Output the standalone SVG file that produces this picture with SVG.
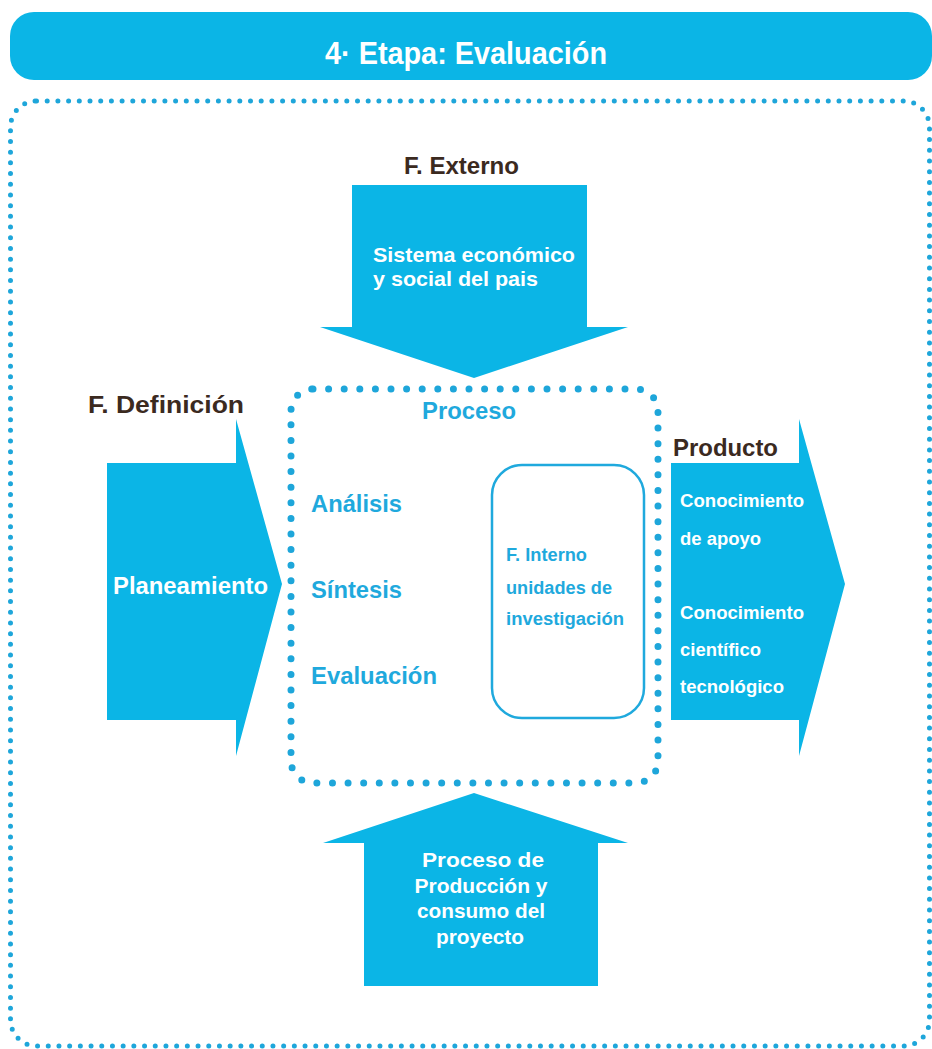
<svg xmlns="http://www.w3.org/2000/svg" width="932" height="1049" viewBox="0 0 932 1049">
<style>
text{font-family:"Liberation Sans",Arial,sans-serif;font-weight:bold}
.w{fill:#ffffff}
.b{fill:#3b2a1f;font-size:23px}
.c{fill:#1fa9dd}
.fill{fill:#0bb5e6}
</style>
<rect width="932" height="1049" fill="#ffffff"/>
<g id="title">
<rect x="10" y="12" width="922" height="68" rx="24" class="fill"/>
<text x="466" y="64" class="w" font-size="31" text-anchor="middle" textLength="282" lengthAdjust="spacingAndGlyphs">4· Etapa: Evaluación</text>
</g>
<g id="frame">
<rect x="10.5" y="101" width="919" height="945" rx="26" fill="none" stroke="#1ea6da" stroke-width="5" stroke-linecap="round" stroke-dasharray="0 10.7"/>
</g>
<g id="connectors">
<g id="externo">
<polygon class="fill" points="352,185 587,185 587,327 628,327 474,378 320,327 352,327"/>
<text x="404" y="174" class="b" textLength="115" lengthAdjust="spacingAndGlyphs">F. Externo</text>
<text x="373" y="262" class="w" font-size="21" textLength="202" lengthAdjust="spacingAndGlyphs">Sistema económico</text>
<text x="373" y="286" class="w" font-size="21" textLength="165" lengthAdjust="spacingAndGlyphs">y social del pais</text>
</g>
<g id="definicion">
<polygon class="fill" points="107,463 236,463 236,419 282,584 236,756 236,720 107,720"/>
<text x="88" y="413" class="b" textLength="156" lengthAdjust="spacingAndGlyphs">F. Definición</text>
<text x="113" y="594" class="w" font-size="24" textLength="155" lengthAdjust="spacingAndGlyphs">Planeamiento</text>
</g>
<g id="producto">
<polygon class="fill" points="671,463 799,463 799,419 845,584 799,756 799,720 671,720"/>
<text x="673" y="456" class="b" textLength="105" lengthAdjust="spacingAndGlyphs">Producto</text>
<text x="680" y="507" class="w" font-size="18" textLength="124" lengthAdjust="spacingAndGlyphs">Conocimiento</text>
<text x="680" y="545" class="w" font-size="18" textLength="81" lengthAdjust="spacingAndGlyphs">de apoyo</text>
<text x="680" y="619" class="w" font-size="18" textLength="124" lengthAdjust="spacingAndGlyphs">Conocimiento</text>
<text x="680" y="656" class="w" font-size="18" textLength="81" lengthAdjust="spacingAndGlyphs">científico</text>
<text x="680" y="693" class="w" font-size="18" textLength="104" lengthAdjust="spacingAndGlyphs">tecnológico</text>
</g>
<g id="produccion">
<polygon class="fill" points="474,793 628,843 598,843 598,986 364,986 364,843 323,843"/>
<text x="483" y="867" class="w" font-size="21" text-anchor="middle" textLength="122" lengthAdjust="spacingAndGlyphs">Proceso de</text>
<text x="481" y="893" class="w" font-size="21" text-anchor="middle" textLength="133" lengthAdjust="spacingAndGlyphs">Producción y</text>
<text x="481" y="918" class="w" font-size="21" text-anchor="middle" textLength="128" lengthAdjust="spacingAndGlyphs">consumo del</text>
<text x="480" y="944" class="w" font-size="21" text-anchor="middle" textLength="88" lengthAdjust="spacingAndGlyphs">proyecto</text>
</g>
</g>
<g id="proceso">
<rect x="291" y="389" width="367" height="394" rx="22" fill="none" stroke="#1ea6da" stroke-width="7" stroke-linecap="round" stroke-dasharray="0 15.6"/>
<text x="469" y="419" class="c" font-size="24" text-anchor="middle" textLength="94" lengthAdjust="spacingAndGlyphs">Proceso</text>
<text x="311" y="512" class="c" font-size="24" textLength="91" lengthAdjust="spacingAndGlyphs">Análisis</text>
<text x="311" y="598" class="c" font-size="24" textLength="91" lengthAdjust="spacingAndGlyphs">Síntesis</text>
<text x="311" y="684" class="c" font-size="24" textLength="126" lengthAdjust="spacingAndGlyphs">Evaluación</text>
</g>
<g id="interno">
<rect x="492" y="465" width="152" height="253" rx="30" fill="none" stroke="#1fa9dd" stroke-width="2.5"/>
<text x="506" y="561" class="c" font-size="18" textLength="81" lengthAdjust="spacingAndGlyphs">F. Interno</text>
<text x="506" y="594" class="c" font-size="18" textLength="106" lengthAdjust="spacingAndGlyphs">unidades de</text>
<text x="506" y="625" class="c" font-size="18" textLength="118" lengthAdjust="spacingAndGlyphs">investigación</text>
</g>
</svg>
